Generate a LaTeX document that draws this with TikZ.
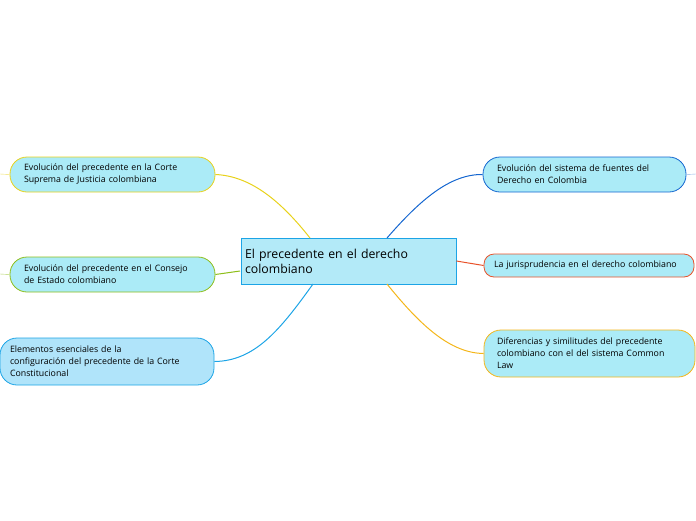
\documentclass[tikz,border=0pt]{standalone}
\usepackage{fontspec}
\setmainfont{Open Sans}
\usetikzlibrary{positioning}
\definecolor{leaffill}{HTML}{ABEBF7}
\definecolor{rootfill}{HTML}{B3EAF8}
\definecolor{cyanfill}{HTML}{B0E4FA}
\definecolor{cyellow}{HTML}{E8D21C}
\definecolor{cgreen}{HTML}{8EBE1A}
\definecolor{cblue}{HTML}{1CA4E6}
\definecolor{cdblue}{HTML}{1466D0}
\definecolor{cred}{HTML}{E8522A}
\definecolor{corange}{HTML}{F4B61A}
\begin{document}
\begin{tikzpicture}[x=1pt,y=-1pt,
    rootNode/.style={rectangle, draw=cblue, fill=rootfill, line width=0.8pt, text width=207pt, inner xsep=4pt, align=left, minimum height=46pt, font=\fontsize{12.3}{15}\selectfont},
    leaf/.style={rectangle, rounded corners=17pt, fill=leaffill, line width=0.8pt, inner xsep=14pt, align=left, font=\fontsize{8.8}{12}\selectfont},
    link/.style={line width=1pt}]
  \useasboundingbox (0,0) rectangle (696,520);

  \node[rootNode] (root) at (348.5,261) {El precedente en el derecho\\colombiano};

  % left side
  \node[leaf, draw=cyellow, text width=177pt, minimum height=35pt] (corte) at (112.5,174.5) {Evolución del precedente en la Corte\\Suprema de Justicia colombiana};
  \node[leaf, draw=cgreen, text width=177pt, minimum height=35pt] (consejo) at (112.5,274.5) {Evolución del precedente en el Consejo\\de Estado colombiano};
  \node[leaf, draw=cblue, fill=cyanfill, text width=194pt, inner xsep=10pt, minimum height=47pt] (elementos) at (107,361.5) {Elementos esenciales de la\\configuración del precedente de la Corte\\Constitucional};

  % right side
  \node[leaf, draw=cdblue, text width=175pt, minimum height=35pt] (fuentes) at (584.5,174.5) {Evolución del sistema de fuentes del\\Derecho en Colombia};
  \node[leaf, draw=cred, rounded corners=10pt, text width=190pt, inner xsep=10pt, minimum height=23pt] (jurisp) at (589,265.5) {La jurisprudencia en el derecho colombiano};
  \node[leaf, draw=corange, text width=185pt, inner xsep=13pt, minimum height=47pt] (diferencias) at (589.5,353.5) {Diferencias y similitudes del precedente\\colombiano con el del sistema Common\\Law};

  \coordinate (rootNW) at (310,238);
  \coordinate (rootNE) at (387,238);
  \coordinate (rootSW) at (313,284);
  \coordinate (rootSE) at (387,284);
  \coordinate (rootW) at (240,271);
  \coordinate (stubL1) at (0,174);
  \coordinate (stubL2) at (0,274);
  \coordinate (stubR1) at (696,174);

  \draw[link, cyellow] (rootNW) .. controls (280,200) and (250,176) .. (corte.east);
  \draw[link, cgreen] (rootW) .. controls (228,272) .. (consejo.east);
  \draw[link, cblue] (rootSW) .. controls (280,330) and (255,361) .. (elementos.east);
  \draw[link, cdblue] (rootNE) .. controls (420,200) and (450,174) .. (fuentes.west);
  \draw[link, cred] (root.east) -- (jurisp.west);
  \draw[link, corange] (rootSE) .. controls (420,325) and (450,353) .. (diferencias.west);

  \draw[cyellow!70] (corte.west) -- (stubL1);
  \draw[cgreen!70] (consejo.west) -- (stubL2);
  \draw[cdblue!50] (fuentes.east) -- (stubR1);
\end{tikzpicture}
\end{document}
